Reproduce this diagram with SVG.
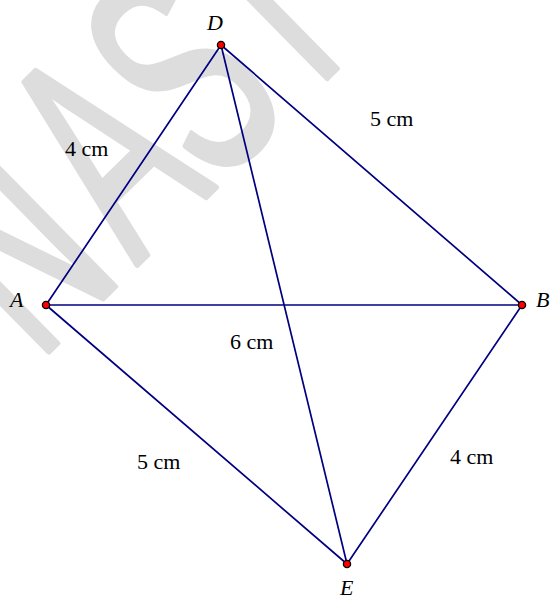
<svg xmlns="http://www.w3.org/2000/svg" width="550" height="597" viewBox="0 0 550 597">
  <style>
    .wm { fill: #dddddd; stroke: #dddddd; stroke-width: 6; stroke-linejoin: round; text-anchor: middle; }
    .edge { stroke: #000080; stroke-width: 1.7; fill: none; stroke-linecap: round; }
    .pt { fill: #ff0000; stroke: #000000; stroke-width: 1.3; }
    .len { fill: #000000; }
    .name { font-style: italic; fill: #000000; }
  </style>
  <rect width="550" height="597" fill="#ffffff"/>
  <g id="watermark" transform="translate(173,228) rotate(-44.5)" font-family="Liberation Sans, Arial, sans-serif" font-size="304">
    <g transform="scale(0.56,1)">
      <text class="wm" x="-230" y="1">N</text>
      <text class="wm" x="7" y="1">A</text>
      <text class="wm" x="204" y="1">S</text>
      <text class="wm" x="396" y="1">I</text>
    </g>
  </g>
  <g id="connectors">
    <line class="edge" x1="46" y1="305" x2="221" y2="45"/>
    <line class="edge" x1="221" y1="45" x2="522" y2="305"/>
    <line class="edge" x1="46" y1="305" x2="522" y2="305"/>
    <line class="edge" x1="221" y1="45" x2="347" y2="564"/>
    <line class="edge" x1="46" y1="305" x2="347" y2="564"/>
    <line class="edge" x1="522" y1="305" x2="347" y2="564"/>
  </g>
  <g id="labels" font-family="Liberation Serif, Times New Roman, DejaVu Serif, serif" font-size="22">
    <text class="len" x="65" y="156">4 cm</text>
    <text class="len" x="370" y="126">5 cm</text>
    <text class="len" x="230" y="349">6 cm</text>
    <text class="len" x="137" y="469">5 cm</text>
    <text class="len" x="450" y="464">4 cm</text>
  </g>
  <g id="node-D" font-family="Liberation Serif, Times New Roman, DejaVu Serif, serif" font-size="22">
    <circle class="pt" cx="221" cy="45" r="3.6"/>
    <text class="name" x="207" y="30">D</text>
  </g>
  <g id="node-A" font-family="Liberation Serif, Times New Roman, DejaVu Serif, serif" font-size="22">
    <circle class="pt" cx="46" cy="305" r="3.6"/>
    <text class="name" x="10" y="307">A</text>
  </g>
  <g id="node-B" font-family="Liberation Serif, Times New Roman, DejaVu Serif, serif" font-size="22">
    <circle class="pt" cx="522" cy="305" r="3.6"/>
    <text class="name" x="536" y="307">B</text>
  </g>
  <g id="node-E" font-family="Liberation Serif, Times New Roman, DejaVu Serif, serif" font-size="22">
    <circle class="pt" cx="347" cy="564" r="3.6"/>
    <text class="name" x="340" y="595">E</text>
  </g>
</svg>
